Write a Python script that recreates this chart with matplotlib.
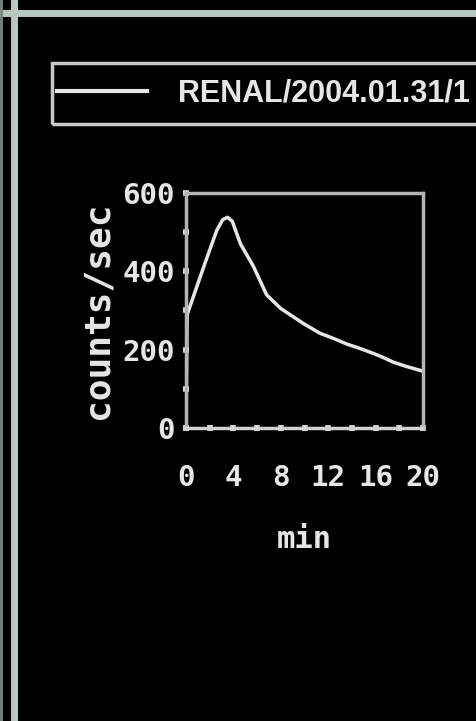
import matplotlib
matplotlib.use("Agg")
import matplotlib.pyplot as plt
from matplotlib.patches import Rectangle
from matplotlib.lines import Line2D

# data
minutes = [0, 0.1, 1.5, 2.6, 3.1, 3.5, 3.9, 4.6, 5.7, 6.8, 8.0, 9.0, 10.0, 11.3, 12.5, 13.6, 14.5, 15.5, 16.5, 17.5, 18.5, 20.0]
counts = [0, 290, 412, 505, 532, 538, 528, 470, 412, 340, 305, 285, 265, 242, 228, 214, 205, 194, 182, 168, 158, 145]
x_ticks = [0, 4, 8, 12, 16, 20]
y_ticks = [0, 200, 400, 600]
x_minor = [2, 6, 10, 14, 18]
y_minor = [100, 300, 500]
legend_label = "RENAL/2004.01.31/1"
x_label = "min"
y_label = "counts/sec"

W, H = 477, 721
fig = plt.figure(figsize=(W / 100, H / 100), dpi=100, facecolor="black")

fg = "#e6e6e6"
spine_c = "#b4b4b4"
frame_c = "#b9c9c1"
mono = dict(family=["DejaVu Sans Mono", "DejaVu Sans"], fontweight="bold")
sans = dict(family=["Liberation Sans", "DejaVu Sans"], fontweight="bold")

# screen frame lines
fig.add_artist(Line2D([0, 1], [1 - 13 / H, 1 - 13 / H], color=frame_c, lw=5, transform=fig.transFigure))
fig.add_artist(Line2D([14 / W, 14 / W], [0, 1], color=frame_c, lw=5, transform=fig.transFigure))
fig.add_artist(Line2D([1 / W, 1 / W], [0, 1], color="#7a8a82", lw=2, transform=fig.transFigure))

# legend box
fig.add_artist(Rectangle((52 / W, 1 - 124 / H), 1.0, 61 / H, transform=fig.transFigure,
                         fill=False, edgecolor="#c8c8c8", lw=2.5))
fig.add_artist(Line2D([57 / W, 147 / W], [1 - 91 / H, 1 - 91 / H], color=fg, lw=3, transform=fig.transFigure))
fig.text(178 / W, 1 - 94 / H, legend_label, color=fg, fontsize=22, va="center", ha="left", **sans)

ax = fig.add_axes([186 / W, 1 - 428 / H, 237 / W, 235 / H])
ax.set_facecolor("black")
ax.plot(minutes, counts, color=fg, lw=2.5, solid_joinstyle="round")
ax.set_xlim(0, 20)
ax.set_ylim(0, 600)
for s in ax.spines.values():
    s.set_color(spine_c)
    s.set_linewidth(2.5)
ax.spines["bottom"].set_color("#d0d0d0")

ax.set_xticks(x_ticks)
ax.set_yticks(y_ticks)
ax.set_xticks(x_minor, minor=True)
ax.set_yticks(y_minor, minor=True)
ax.tick_params(which="both", direction="inout", length=4, width=4, color="#d8d8d8")
ax.tick_params(axis="x", which="major", pad=24)
ax.tick_params(axis="y", which="major", pad=6)
ax.set_xticklabels([str(v) for v in x_ticks], color=fg, fontsize=21, **mono)
ax.set_yticklabels([str(v) for v in y_ticks], color=fg, fontsize=21, **mono)
ax.set_xlabel(x_label, color=fg, fontsize=22, labelpad=24, **mono)
ax.set_ylabel(y_label, color=fg, fontsize=26, labelpad=6, **mono)

fig.savefig("out.png", dpi=100, facecolor="black")
